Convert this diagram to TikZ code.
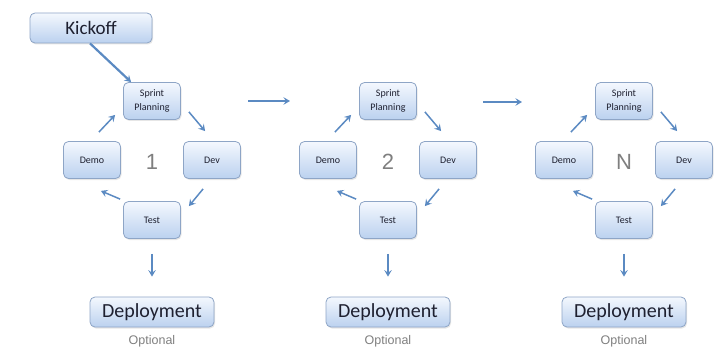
\documentclass[tikz,border=0pt]{standalone}
\usepackage{fontspec}
\setmainfont{Carlito}
\newfontfamily\helvfont{Liberation Sans}
\usetikzlibrary{positioning,shadows,arrows.meta}
\definecolor{BoxEdge}{HTML}{8EA5C6}
\definecolor{BoxTop}{HTML}{F4F8FE}
\definecolor{BoxBottom}{HTML}{BBD1EF}
\definecolor{FlowBlue}{HTML}{5B8AC2}
\definecolor{LabelGray}{HTML}{7F7F7F}
\definecolor{InkDark}{HTML}{1E2030}

\begin{document}
\begin{tikzpicture}[x=1pt, y=-1pt,
                    >={Stealth[length=6.5pt,width=7.5pt,inset=2.5pt]},
                    box/.style={draw=BoxEdge, line width=0.8pt, rounded corners=5pt,
                                top color=BoxTop, bottom color=BoxBottom, text=InkDark,
                                align=center, inner sep=2pt,
                                drop shadow={shadow xshift=1pt, shadow yshift=-1.5pt, opacity=0.2}},
                    stage/.style={box, minimum width=57pt, minimum height=37pt,
                                  font=\fontsize{10}{14}\selectfont},
                    bigbox/.style={box, minimum height=30pt, font=\fontsize{20}{24}\selectfont},
                    flow/.style={->, draw=FlowBlue, line width=1.5pt},
                    bigflow/.style={flow, line width=2.2pt}]
  \useasboundingbox (0,0) rectangle (716,361);

  \node[bigbox, minimum width=122pt, font=\fontsize{19}{23}\selectfont] (kick) at (91,28) {Kickoff};

  \foreach \i/\num in {1/1,2/2,3/N} {
    \pgfmathsetmacro\cx{152+236*(\i-1)}
    \node[stage] (plan\i) at (\cx,101) {Sprint\\Planning};
    \node[stage] (demo\i) at (\cx-60,160) {Demo};
    \node[stage] (dev\i)  at (\cx+60,160) {Dev};
    \node[stage] (test\i) at (\cx,220) {Test};
    \node[text=LabelGray, font=\helvfont\fontsize{22}{26}\selectfont] (num\i) at (\cx,162) {\num};
    \node[bigbox, minimum width=124pt] (deploy\i) at (\cx,312) {Deployment};
    \node[text=LabelGray, font=\helvfont\fontsize{12.5}{15}\selectfont] (opt\i) at (\cx,341) {Optional};
    % loop of one sprint
    \draw[flow] ([shift={(8,-8)}]plan\i.south east) -- ([shift={(22,-10)}]dev\i.north west);
    \draw[flow] ([shift={(20,10)}]dev\i.south west) -- ([shift={(8,5)}]test\i.north east);
    \draw[flow] ([shift={(-3,-2)}]test\i.north west) -- ([shift={(-20,12)}]demo\i.south east);
    \draw[flow] ([shift={(-22,-9)}]demo\i.north east) -- ([shift={(-8,-5)}]plan\i.south west);
    \draw[bigflow] ([shift={(0,15)}]test\i.south) -- ([shift={(0,-20)}]deploy\i.north);
  }

  \coordinate (go1) at (248,101);
  \coordinate (to1) at (290,101);
  \coordinate (go2) at (483,102);
  \coordinate (to2) at (522,102);
  \draw[bigflow] (go1) -- (to1);
  \draw[bigflow] (go2) -- (to2);
  \draw[bigflow] ([xshift=-1pt]kick.south) -- ([shift={(8,0)}]plan1.north west);
\end{tikzpicture}
\end{document}
